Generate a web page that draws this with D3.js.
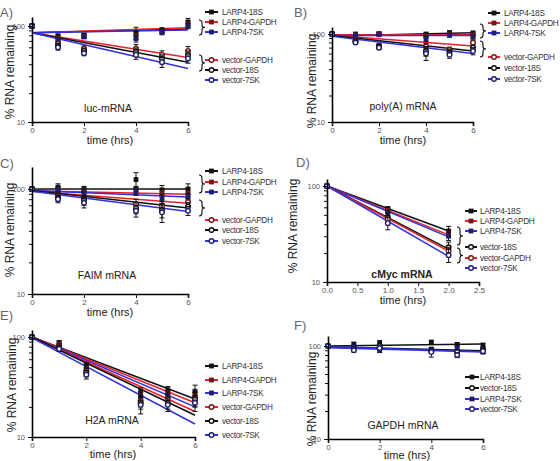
<!DOCTYPE html>
<html><head><meta charset="utf-8">
<script src="https://cdn.jsdelivr.net/npm/d3@7"></script>
<style>
body{margin:0;background:#fff}
text{font-family:"Liberation Sans",Arial,sans-serif}
</style>
</head><body>
<svg id="c" width="560" height="461"></svg>
<script>
// ---------- DATA ----------
const times = [0,1,2,4,5,6];
const timesD = [0,1,2];
const xTicks06 = [0,2,4,6];
const xTicksD = [0,0.5,1,1.5,2,2.5];
const yTickValues = [10,20,30,40,50,60,70,80,90,100];
const yTickLabels = [10,100];

// Panel A: luc-mRNA
const aNames = ["LARP4-18S","LARP4-GAPDH","LARP4-7SK","vector-GAPDH","vector-18S","vector-7SK"];
const aMeans = [[100,78,80,85,90,110],[100,75,78,80,88,105],[100,72,77,74,86,100],[100,65,58,58,50,55],[100,62,55,54,46,50],[100,60,52,50,42,46]];
const aErrs  = [[4,5,4,12,6,10],[0,5,4,8,5,8],[0,4,3,6,5,6],[0,4,4,6,5,6],[0,4,4,5,4,5],[0,4,3,5,5,5]];
const aFits  = [[85,93],[85,96],[85,91],[85,47],[85,42],[85,36]];

// Panel B: poly(A) mRNA
const bNames = ["LARP4-18S","LARP4-GAPDH","LARP4-7SK","vector-GAPDH","vector-18S","vector-7SK"];
const bMeans = [[100,100,101,99,103,102],[100,98,100,95,100,98],[100,97,98,88,97,94],[100,84,74,72,66,80],[100,82,72,64,62,70],[100,80,70,60,58,64]];
const bErrs  = [[3,3,4,6,6,6],[0,3,3,5,5,5],[0,3,3,6,5,5],[0,3,3,6,5,6],[0,3,3,8,5,5],[0,3,3,10,5,6]];
const bFits  = [[95,103],[98,98],[96,96],[97,73],[96,64],[94,60]];

// Panel C: FAIM mRNA
const cNames = ["LARP4-18S","LARP4-GAPDH","LARP4-7SK","vector-GAPDH","vector-18S","vector-7SK"];
const cMeans = [[100,104,100,123,98,100],[100,100,96,98,92,92],[100,98,92,95,80,85],[100,85,80,72,68,75],[100,82,78,66,63,68],[100,80,74,62,60,62]];
const cErrs  = [[0,8,6,20,10,12],[0,6,5,8,8,8],[0,5,6,8,8,6],[0,5,6,8,8,6],[0,5,8,8,10,6],[0,6,8,8,12,6]];
const cFits  = [[100,100],[96,89],[97,84],[95,73],[97,66],[95,61]];

// Panel D: cMyc mRNA
const dNames = ["LARP4-18S","LARP4-GAPDH","LARP4-7SK","vector-18S","vector-GAPDH","vector-7SK"];
const dMeans = [[100,58,34],[100,56,32],[100,52,30],[100,47,23],[100,45,21],[100,41,19]];
const dErrs  = [[0,3,4],[0,3,3],[0,3,3],[0,5,3],[0,4,2],[0,6,3]];
const dFits  = [[100,34],[100,31],[100,29.5],[100,22],[100,21],[100,18.5]];

// Panel E: H2A mRNA
const eNames = ["LARP4-18S","LARP4-GAPDH","LARP4-7SK","vector-GAPDH","vector-18S","vector-7SK"];
const eMeans = [[100,88,52,28,29,28],[100,85,50,27,28,26],[100,82,48,25,26,24],[100,80,46,23,24,25],[100,78,44,22,22,24],[100,76,42,21,21,22]];
const eErrs  = [[0,4,4,3,3,5],[0,4,4,3,3,4],[0,4,4,3,3,4],[0,4,4,3,3,4],[0,4,4,3,3,4],[0,4,4,4,3,4]];
const eFits  = [[100,24],[100,22],[100,20],[100,18],[100,16.5],[98,13.5]];

// Panel F: GAPDH mRNA
const fNames = ["LARP4-18S","vector-18S","LARP4-7SK","vector-7SK"];
const fMeans = [[100,105,108,110,104,102],[100,96,100,90,88,92],[100,98,90,92,95,88],[100,90,95,86,80,88]];
const fErrs  = [[0,4,6,5,5,5],[0,4,5,5,5,5],[0,4,5,5,5,5],[0,4,5,10,5,6]];
const fFits  = [[100,105],[98,89],[98,87],[96,86]];

// ---------- STYLE / LAYOUT ----------
const RED = "#e8202a", BLUE = "#3030dc", BLACK = "#111";
function colorOf(n){ return n.includes("GAPDH") ? RED : n.includes("7SK") ? BLUE : BLACK; }
function darkOf(n){ return n.includes("GAPDH") ? "#6a1a1a" : n.includes("7SK") ? "#1e1e6a" : "#111"; }
function isSquare(n){ return n.startsWith("LARP4"); }

const svg = d3.select("#c");

const panels = [
 {label:"A)", lx:0, ly:12, names:aNames, means:aMeans, errs:aErrs, fits:aFits, t:times, xmax:6, xt:xTicks06, fmt:d3.format("d"),
  x0:32, x1:188, yB:122, y100:26, top:17, title:"luc-mRNA", tx:108, ty:108, bold:false,
  ylab:[10,72], xlab:[110,140], leg:{l0:205,l1:218,tx:222,rows:[12,22,32,60,70,80]}, braces:[[199,20,35],[199,55,71]]},
 {label:"B)", lx:294, ly:12, names:bNames, means:bMeans, errs:bErrs, fits:bFits, t:times, xmax:6, xt:xTicks06, fmt:d3.format("d"),
  x0:332, x1:473, yB:122, y100:34, top:27, title:"poly(A)  mRNA", tx:403, ty:106, bold:false,
  ylab:[312,81], xlab:[403,140], leg:{l0:488,l1:500,tx:504,rows:[13,23,33,57,68,79]}, braces:[[480,24,38],[480,41,57]]},
 {label:"C)", lx:0, ly:163, names:cNames, means:cMeans, errs:cErrs, fits:cFits, t:times, xmax:6, xt:xTicks06, fmt:d3.format("d"),
  x0:32, x1:188, yB:294, y100:189, top:167, title:"FAIM mRNA", tx:107, ty:275, bold:false,
  ylab:[10,230], xlab:[110,312], leg:{l0:205,l1:218,tx:222,rows:[171,182,192,220,230,241]}, braces:[[199,175,193],[199,200,216]]},
 {label:"D)", lx:296, ly:162, names:dNames, means:dMeans, errs:dErrs, fits:dFits, t:timesD, xmax:2.5, xt:xTicksD, fmt:d3.format(".1f"),
  x0:327, x1:479, yB:282, y100:186, top:179, title:"cMyc mRNA", tx:402, ty:274, bold:true,
  ylab:[293,226], xlab:[403,300], leg:{l0:465,l1:477,tx:480,rows:[211,221,231,247,258,268]}, braces:[[457,227,245],[457,248,263]]},
 {label:"E)", lx:0, ly:315, names:eNames, means:eMeans, errs:eErrs, fits:eFits, t:times, xmax:6, xt:xTicks06, fmt:d3.format("d"),
  x0:32, x1:195, yB:437, y100:337, top:330, title:"H2A mRNA", tx:112, ty:420, bold:false,
  ylab:[12,385], xlab:[113,454], leg:{l0:205,l1:218,tx:222,rows:[366,380,393,407,421,435]}, braces:[]},
 {label:"F)", lx:294, ly:325, names:fNames, means:fMeans, errs:fErrs, fits:fFits, t:times, xmax:6, xt:xTicks06, fmt:d3.format("d"),
  x0:328, x1:483, yB:439, y100:346, top:336, title:"GAPDH mRNA", tx:403, ty:425, bold:false,
  ylab:[312,399], xlab:[407,455], leg:{l0:465,l1:479,tx:480,rows:[377,388,399,409]}, braces:[]}
];

function marker(g, n, cx, cy){
  if(isSquare(n)){
    g.append("rect").attr("x",cx-2.4).attr("y",cy-2.4).attr("width",4.8).attr("height",4.8)
      .attr("fill",darkOf(n));
  } else {
    g.append("circle").attr("cx",cx).attr("cy",cy).attr("r",2.3)
      .attr("fill","#fff").attr("stroke",darkOf(n)).attr("stroke-width",1.4);
  }
}

function brace(g, x, y1, y2){
  const ym=(y1+y2)/2;
  g.append("path")
   .attr("d",`M${x},${y1} Q${x+3},${y1} ${x+3},${y1+3} L${x+3},${ym-2} Q${x+3},${ym} ${x+6},${ym} Q${x+3},${ym} ${x+3},${ym+2} L${x+3},${y2-3} Q${x+3},${y2} ${x},${y2}`)
   .attr("fill","none").attr("stroke","#111").attr("stroke-width",1.1);
}

panels.forEach(p=>{
  const g = svg.append("g");
  const x = d3.scaleLinear().domain([0,p.xmax]).range([p.x0,p.x1]);
  const yTmp = d3.scaleLog().domain([10,100]).range([p.yB,p.y100]);
  const ytop = yTmp.invert(p.top);
  const y = d3.scaleLog().domain([10,ytop]).range([p.yB,p.top]);

  g.append("text").attr("x",p.lx).attr("y",p.ly).attr("dy",".35em").attr("font-size",13)
    .attr("fill","#666").text(p.label);

  p.names.forEach((n,i)=>{
    const f = p.fits[i];
    const tEnd = p.t[p.t.length-1];
    g.append("line").attr("x1",x(0)).attr("y1",y(f[0])).attr("x2",x(tEnd)).attr("y2",y(f[1]))
      .attr("stroke",colorOf(n)).attr("stroke-width",1.5);
  });

  p.names.forEach((n,i)=>{
    p.t.forEach((tv,j)=>{
      const m = p.means[i][j], e = p.errs[i][j];
      const cx = x(tv);
      if(e>0){
        const ya = y(m+e), yb = y(m-e);
        g.append("line").attr("x1",cx).attr("x2",cx).attr("y1",ya).attr("y2",yb).attr("stroke","#111").attr("stroke-width",1);
        [ya,yb].forEach(yy=>g.append("line").attr("x1",cx-2.5).attr("x2",cx+2.5).attr("y1",yy).attr("y2",yy).attr("stroke","#111").attr("stroke-width",1));
      }
      marker(g,n,cx,y(m));
    });
  });

  const ax = g.append("g").attr("transform",`translate(${p.x0},0)`)
    .call(d3.axisLeft(y).tickValues(yTickValues).tickFormat(d=>yTickLabels.includes(d)?d:"").tickSizeOuter(0).tickPadding(1));
  ax.selectAll(".tick line").attr("x2",d=>yTickLabels.includes(d)?-4:-3).attr("stroke","#111");
  ax.select(".domain").attr("stroke","#000").attr("stroke-width",1.6);
  ax.selectAll(".tick text").attr("font-size",7.5).attr("fill","#555").attr("font-family","Liberation Sans, Arial, sans-serif");

  const bx = g.append("g").attr("transform",`translate(0,${p.yB})`)
    .call(d3.axisBottom(x).tickValues(p.xt).tickFormat(p.fmt).tickSizeOuter(0).tickSize(4).tickPadding(1));
  bx.select(".domain").attr("stroke","#000").attr("stroke-width",1.6);
  bx.selectAll(".tick line").attr("stroke","#111");
  bx.selectAll(".tick text").attr("font-size",8).attr("fill","#555").attr("font-family","Liberation Sans, Arial, sans-serif");

  g.append("text").attr("transform",`translate(${p.ylab[0]},${p.ylab[1]}) rotate(-90)`)
    .attr("text-anchor","middle").attr("dy",".35em").attr("font-size",12).attr("fill","#222").text("% RNA remaining");
  g.append("text").attr("x",p.xlab[0]).attr("y",p.xlab[1]).attr("text-anchor","middle").attr("dy",".35em")
    .attr("font-size",11).attr("fill","#222").text("time (hrs)");

  g.append("text").attr("x",p.tx).attr("y",p.ty).attr("text-anchor","middle").attr("dy",".35em")
    .attr("font-size",10.5).attr("font-weight",p.bold?"bold":"normal").attr("fill","#222").text(p.title);

  p.names.forEach((n,i)=>{
    const ry = p.leg.rows[i];
    g.append("line").attr("x1",p.leg.l0).attr("x2",p.leg.l1).attr("y1",ry).attr("y2",ry)
      .attr("stroke",colorOf(n)).attr("stroke-width",2);
    marker(g,n,(p.leg.l0+p.leg.l1)/2,ry);
    g.append("text").attr("x",p.leg.tx).attr("y",ry).attr("dy",".35em").attr("font-size",8.2)
      .attr("letter-spacing","-0.3px").attr("fill","#333").text(n);
  });

  p.braces.forEach(b=>brace(g,b[0],b[1],b[2]));
});
</script>
</body></html>
